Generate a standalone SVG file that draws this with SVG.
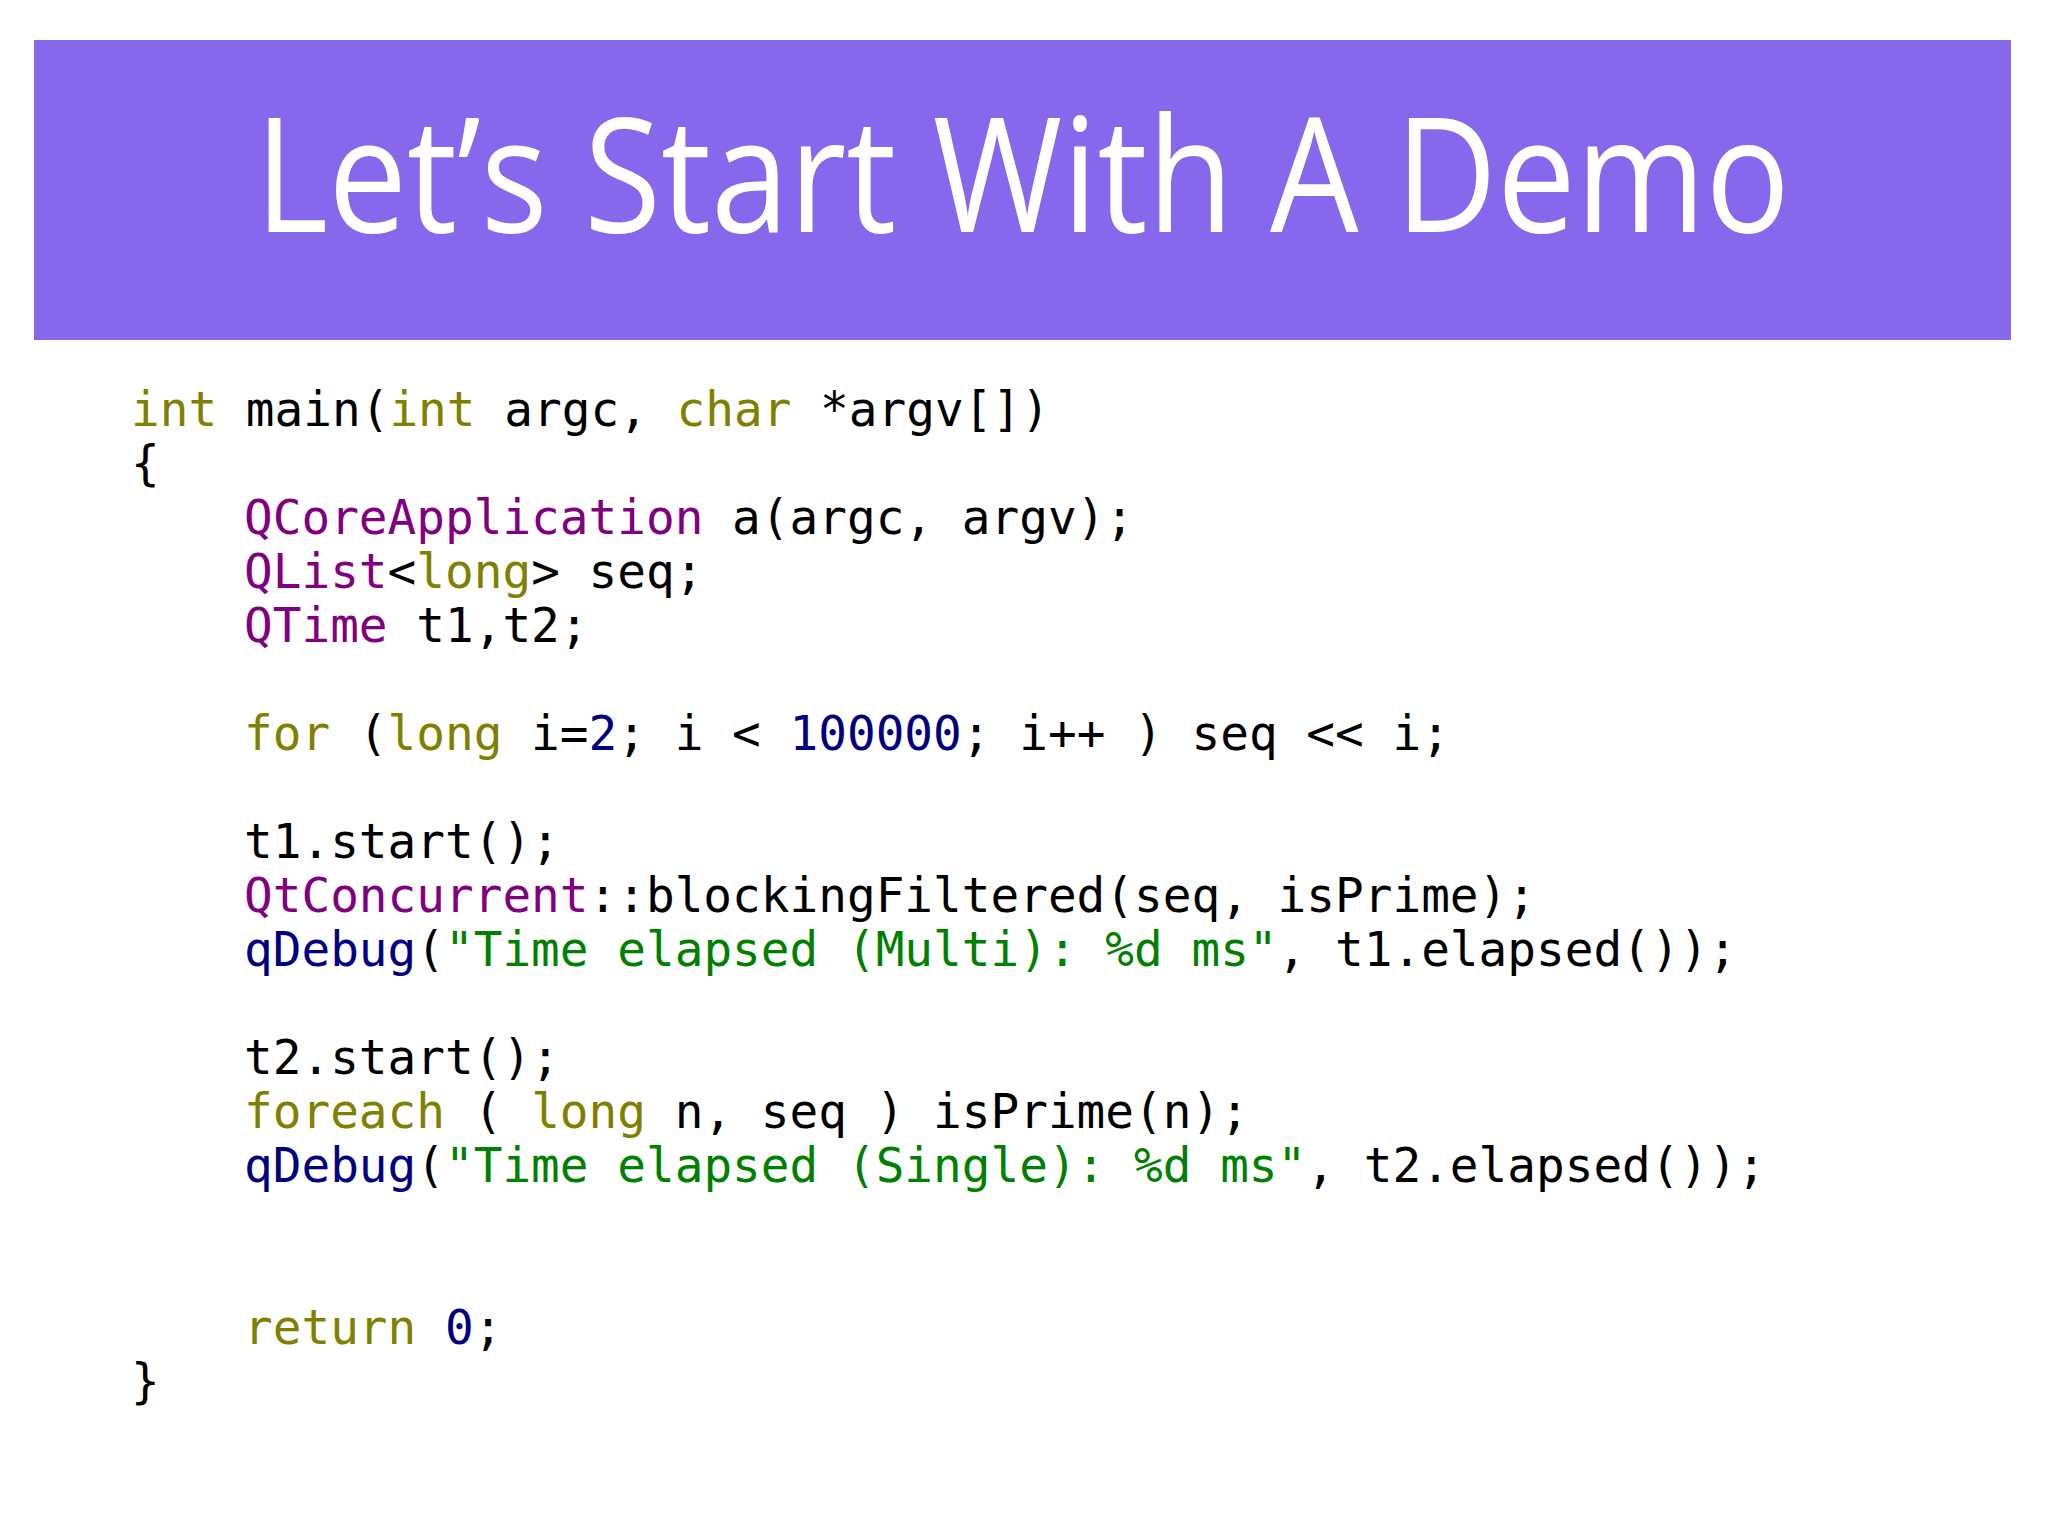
<svg xmlns="http://www.w3.org/2000/svg" width="2048" height="1536" viewBox="0 0 2048 1536">
<style>
.c{font-family:"DejaVu Sans Mono","Liberation Mono",monospace;font-size:47.7px;fill:#000;white-space:pre}
.k{fill:#808000}.t{fill:#800080}.n{fill:#000080}.s{fill:#008000}
</style>
<rect width="2048" height="1536" fill="#fff"/>
<g id="banner">
<rect x="34" y="40" width="1977" height="300" fill="#8767eb"/>
<text x="255" y="232" font-family="Open Sans, Liberation Sans, sans-serif" font-size="160" fill="#fff" textLength="1535" lengthAdjust="spacingAndGlyphs">Let’s Start With A Demo</text>
</g>
<g id="code" class="c" xml:space="preserve">
<text x="131" y="426"><tspan class="k">int</tspan> main(<tspan class="k">int</tspan> argc, <tspan class="k">char</tspan> *argv[])</text>
<text x="131" y="480">{</text>
<text x="244" y="534"><tspan class="t">QCoreApplication</tspan> a(argc, argv);</text>
<text x="244" y="588"><tspan class="t">QList</tspan>&lt;<tspan class="k">long</tspan>&gt; seq;</text>
<text x="244" y="642"><tspan class="t">QTime</tspan> t1,t2;</text>
<text x="244" y="750"><tspan class="k">for</tspan> (<tspan class="k">long</tspan> i=<tspan class="n">2</tspan>; i &lt; <tspan class="n">100000</tspan>; i++ ) seq &lt;&lt; i;</text>
<text x="244" y="858">t1.start();</text>
<text x="244" y="912"><tspan class="t">QtConcurrent</tspan>::blockingFiltered(seq, isPrime);</text>
<text x="244" y="966"><tspan class="n">qDebug</tspan>(<tspan class="s">"Time elapsed (Multi): %d ms"</tspan>, t1.elapsed());</text>
<text x="244" y="1074">t2.start();</text>
<text x="244" y="1128"><tspan class="k">foreach</tspan> ( <tspan class="k">long</tspan> n, seq ) isPrime(n);</text>
<text x="244" y="1182"><tspan class="n">qDebug</tspan>(<tspan class="s">"Time elapsed (Single): %d ms"</tspan>, t2.elapsed());</text>
<text x="244" y="1344"><tspan class="k">return</tspan> <tspan class="n">0</tspan>;</text>
<text x="131" y="1398">}</text>
</g>
</svg>
